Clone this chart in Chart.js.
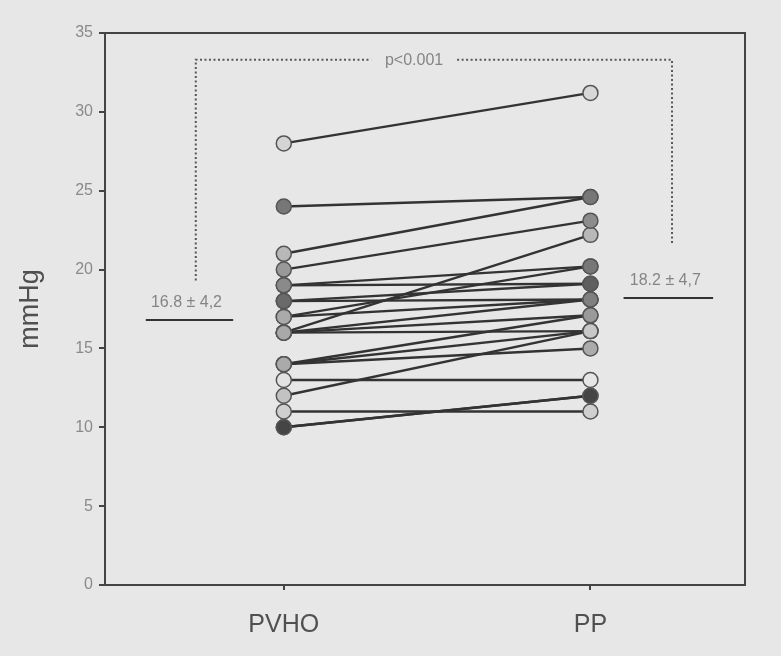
<!DOCTYPE html>
<html>
<head>
<meta charset="utf-8">
<script src="https://cdn.jsdelivr.net/npm/chart.js@4"></script>
<style>
  html, body { margin: 0; padding: 0; background: #e7e7e7; }
  #wrap { width: 781px; height: 656px; position: relative; }
</style>
</head>
<body>
<div id="wrap"><canvas id="myChart"></canvas></div>
<script>
// categories and paired values (one entry per patient)
const categories = ['PVHO', 'PP'];
const pvho = [28, 24, 21, 20, 16, 19, 19, 18, 18, 17, 17, 16, 16, 16, 14, 14, 13, 12, 11, 10, 10, 14];
const pp = [31.2, 24.6, 24.6, 23.1, 22.2, 20.2, 19.1, 19.1, 18.1, 20.2, 18.1, 17.1, 16.1, 18.1, 16.1, 15, 13, 16.1, 11, 12, 12, 17.1];
const meanValues = [16.8, 18.2];
const sdValues = ['4,2', '4,7'];
const yTicks = [0, 5, 10, 15, 20, 25, 30, 35];

// marker fill shades
const pvhoShade = ['#d4d4d4', '#777', '#b8b8b8', '#999', '#a9a9a9', '#8a8a8a', '#8a8a8a', '#6a6a6a', '#6a6a6a', '#aaa', '#aaa', '#aaa', '#aaa', '#aaa', '#aaa', '#aaa', '#e2e2e2', '#c2c2c2', '#cfcfcf', '#454545', '#454545', '#aaa'];
const ppShade = ['#d8d8d8', '#777', '#777', '#8c8c8c', '#b8b8b8', '#777', '#5f5f5f', '#5f5f5f', '#808080', '#777', '#808080', '#9a9a9a', '#c8c8c8', '#808080', '#c8c8c8', '#ababab', '#e6e6e6', '#c8c8c8', '#cfcfcf', '#454545', '#454545', '#9a9a9a'];

const lineSets = pvho.map((v, i) => ({
  data: [{x: 0, y: v}, {x: 1, y: pp[i]}],
  showLine: true,
  borderColor: '#333',
  borderWidth: 2.4,
  pointRadius: 0,
  order: 2
}));
const pointSets = pvho.map((v, i) => ({
  data: [{x: 0, y: v}, {x: 1, y: pp[i]}],
  showLine: false,
  pointRadius: 7.5,
  pointBackgroundColor: [pvhoShade[i], ppShade[i]],
  pointBorderColor: '#555',
  pointBorderWidth: 1.5,
  order: 1
}));

const extras = {
  id: 'extras',
  afterDatasetsDraw(chart) {
    const {ctx, chartArea: a, scales: {x, y}} = chart;
    ctx.save();
    // frame top + right
    ctx.strokeStyle = '#444';
    ctx.lineWidth = 2;
    ctx.beginPath();
    ctx.moveTo(a.left, a.top);
    ctx.lineTo(a.right, a.top);
    ctx.lineTo(a.right, a.bottom);
    ctx.stroke();

    // mean lines and labels
    ctx.font = '16px "Liberation Sans", Arial, sans-serif';
    ctx.fillStyle = '#858585';
    ctx.textAlign = 'center';
    ctx.textBaseline = 'bottom';
    ctx.strokeStyle = '#333';
    ctx.lineWidth = 2;
    const meanX = [[-0.45, -0.165], [1.108, 1.4]];
    meanValues.forEach((m, i) => {
      const x1 = x.getPixelForValue(meanX[i][0]);
      const x2 = x.getPixelForValue(meanX[i][1]);
      const yy = y.getPixelForValue(m);
      ctx.beginPath();
      ctx.moveTo(x1, yy);
      ctx.lineTo(x2, yy);
      ctx.stroke();
      ctx.fillText(m.toFixed(1) + ' \u00b1 ' + sdValues[i], (x1 + x2) / 2 - 3, yy - 9);
    });

    // significance bracket
    const bl = x.getPixelForValue(-0.287);
    const br = x.getPixelForValue(1.266);
    const bt = y.getPixelForValue(33.3);
    const pText = 'p<0.001';
    const cx = (x.getPixelForValue(0) + x.getPixelForValue(1)) / 2 - 20;
    ctx.strokeStyle = '#585858';
    ctx.lineWidth = 2;
    ctx.setLineDash([2, 2.5]);
    ctx.beginPath();
    ctx.moveTo(bl, y.getPixelForValue(19.3));
    ctx.lineTo(bl, bt);
    ctx.lineTo(cx - 46, bt);
    ctx.moveTo(cx + 40, bt);
    ctx.lineTo(br, bt);
    ctx.lineTo(br, y.getPixelForValue(21.6));
    ctx.stroke();
    ctx.setLineDash([]);
    ctx.textBaseline = 'middle';
    ctx.fillText(pText, cx - 3, bt + 1);
    ctx.restore();
  }
};

const ctx = document.getElementById('myChart');
new Chart(ctx, {
  type: 'scatter',
  data: { datasets: pointSets.concat(lineSets) },
  options: {
    responsive: true,
    maintainAspectRatio: false,
    animation: false,
    layout: { padding: { top: 33, right: 36, bottom: 6, left: 0 } },
    plugins: { legend: { display: false }, tooltip: { enabled: false } },
    scales: {
      x: {
        type: 'linear',
        min: -0.583,
        max: 1.504,
        afterBuildTicks: axis => { axis.ticks = [{value: 0}, {value: 1}]; },
        afterFit: axis => { axis.height = 65; },
        grid: { drawOnChartArea: false, drawTicks: true, tickLength: 5, color: '#444', lineWidth: 2 },
        border: { display: true, color: '#444', width: 2 },
        ticks: {
          padding: 20,
          color: '#505050',
          font: { family: '"Liberation Sans", Arial, sans-serif', size: 25 },
          callback: v => categories[v]
        }
      },
      y: {
        min: 0,
        max: 35,
        afterBuildTicks: axis => { axis.ticks = yTicks.map(v => ({value: v})); },
        afterFit: axis => { axis.width = 105; },
        grid: { drawOnChartArea: false, drawTicks: true, tickLength: 6, color: '#444', lineWidth: 2 },
        border: { display: true, color: '#444', width: 2 },
        ticks: {
          padding: 6,
          color: '#8a8a8a',
          font: { family: '"Liberation Sans", Arial, sans-serif', size: 16 }
        },
        title: {
          display: true,
          text: 'mmHg',
          color: '#505050',
          padding: { top: 14, bottom: 0 },
          font: { family: '"Liberation Sans", Arial, sans-serif', size: 27 }
        }
      }
    }
  },
  plugins: [extras]
});
</script>
</body>
</html>
